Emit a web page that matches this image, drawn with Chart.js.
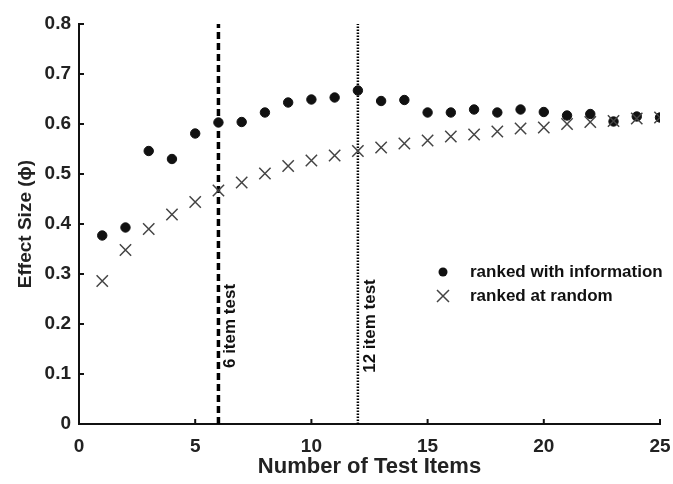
<!DOCTYPE html>
<html>
<head>
<meta charset="utf-8">
<script src="https://cdn.jsdelivr.net/npm/chart.js@4.4.1/dist/chart.umd.min.js"></script>
<style>
  html, body { margin: 0; padding: 0; background: #fff; }
  #wrap { width: 673px; height: 484px; position: relative; }
</style>
</head>
<body>
<div id="wrap"><canvas id="chart"></canvas></div>
<script>
// number of test items (x)
const items = [1, 2, 3, 4, 5, 6, 7, 8, 9, 10, 11, 12, 13, 14, 15, 16, 17, 18, 19, 20, 21, 22, 23, 24, 25];
// effect size, items ranked with information
const rankedInfo = [0.377, 0.393, 0.546, 0.530, 0.581, 0.603, 0.604, 0.623, 0.643, 0.649, 0.653, 0.667, 0.646, 0.648,
  0.623, 0.623, 0.629, 0.623, 0.629, 0.624, 0.617, 0.620, 0.605, 0.615, 0.613];
// effect size, items ranked at random
const rankedRandom = [0.286, 0.348, 0.390, 0.419, 0.444, 0.467, 0.483, 0.501, 0.516, 0.527, 0.537, 0.546, 0.553, 0.561,
  0.567, 0.575, 0.579, 0.585, 0.591, 0.593, 0.600, 0.604, 0.606, 0.611, 0.613];
// marker lines
const markerItems = [6, 12];
const markerLabels = ['6 item test', '12 item test'];
const yRange = [0, 0.8];
const xTicks = [0, 5, 10, 15, 20, 25];

const seriesNames = ['ranked with information', 'ranked at random'];

const BOLD = "'Liberation Sans', Arial, sans-serif";

// inward tick marks, marker labels and legend
const extras = {
  id: 'extras',
  afterDraw(chart) {
    const c = chart.ctx;
    const x = chart.scales.x, y = chart.scales.y;
    const bottom = chart.chartArea.bottom, left = chart.chartArea.left;
    c.save();
    c.strokeStyle = '#111';
    c.lineWidth = 2;
    y.ticks.forEach(t => {
      const py = y.getPixelForValue(t.value);
      c.beginPath(); c.moveTo(left, py); c.lineTo(left + 5, py); c.stroke();
    });
    xTicks.forEach(v => {
      const px = x.getPixelForValue(v);
      c.beginPath(); c.moveTo(px, bottom); c.lineTo(px, bottom - 5); c.stroke();
    });

    // rotated labels next to the marker lines
    c.fillStyle = '#111';
    c.font = 'bold 17px ' + BOLD;
    c.textAlign = 'center';
    c.textBaseline = 'middle';
    markerItems.forEach((m, i) => {
      const px = x.getPixelForValue(m) + 12;
      const py = y.getPixelForValue(0.196);
      c.save();
      c.translate(px, py);
      c.rotate(-Math.PI / 2);
      c.fillText(markerLabels[i], 0, 0);
      c.restore();
    });

    // legend
    const lx = 443, ly = 272, gap = 24;
    c.fillStyle = '#111';
    c.beginPath(); c.arc(lx, ly, 4.5, 0, Math.PI * 2); c.fill();
    c.strokeStyle = '#444';
    c.lineWidth = 1.5;
    c.beginPath();
    c.moveTo(lx - 6, ly + gap - 6); c.lineTo(lx + 6, ly + gap + 6);
    c.moveTo(lx + 6, ly + gap - 6); c.lineTo(lx - 6, ly + gap + 6);
    c.stroke();
    c.font = 'bold 17px ' + BOLD;
    c.textAlign = 'left';
    c.fillStyle = '#111';
    c.fillText(seriesNames[0], 470, ly);
    c.fillText(seriesNames[1], 470, ly + gap);
    c.restore();
  }
};

const markerSets = markerItems.map((m, i) => ({
  type: 'line',
  label: markerLabels[i],
  data: [{ x: m, y: yRange[0] }, { x: m, y: yRange[1] }],
  borderColor: '#000',
  borderWidth: i === 0 ? 3.5 : 2.5,
  borderDash: i === 0 ? [7, 4] : [1.5, 1.5],
  pointRadius: 0,
  order: 3
}));

new Chart(document.getElementById('chart'), {
  type: 'scatter',
  data: {
    datasets: [
      {
        label: seriesNames[1],
        data: items.map((v, i) => ({ x: v, y: rankedRandom[i] })),
        pointStyle: 'crossRot',
        pointRadius: 8,
        borderColor: '#444',
        borderWidth: 1.5,
        order: 0
      },
      {
        label: seriesNames[0],
        data: items.map((v, i) => ({ x: v, y: rankedInfo[i] })),
        pointStyle: 'circle',
        pointRadius: 4.7,
        backgroundColor: '#111',
        borderColor: '#111',
        borderWidth: 1,
        order: 1
      },
      ...markerSets
    ]
  },
  options: {
    responsive: true,
    maintainAspectRatio: false,
    animation: false,
    layout: { padding: { top: 24, right: 0, left: 0, bottom: 0 } },
    plugins: { legend: { display: false }, tooltip: { enabled: false } },
    scales: {
      x: {
        type: 'linear',
        min: 0, max: 25,
        afterBuildTicks: s => { s.ticks = xTicks.map(v => ({ value: v })); },
        afterFit: s => { s.height = 60; s.paddingRight = 13; },
        grid: { display: false, drawTicks: false },
        border: { display: true, color: '#111', width: 2 },
        ticks: { color: '#222', padding: 11, font: { size: 19, weight: 'bold', family: BOLD } },
        title: { display: true, text: 'Number of Test Items', color: '#222', padding: { top: 4 },
          font: { size: 22, weight: 'bold', family: BOLD } }
      },
      y: {
        min: yRange[0], max: yRange[1],
        afterFit: s => { s.width = 79; },
        grid: { display: false, drawTicks: false },
        border: { display: true, color: '#111', width: 2 },
        ticks: { stepSize: 0.1, color: '#222', padding: 8, font: { size: 19, weight: 'bold', family: BOLD } },
        title: { display: true, text: 'Effect Size (\u03D5)', color: '#222', padding: { top: 14, bottom: 0 },
          font: { size: 19, weight: 'bold', family: BOLD } }
      }
    }
  },
  plugins: [extras]
});
</script>
</body>
</html>
